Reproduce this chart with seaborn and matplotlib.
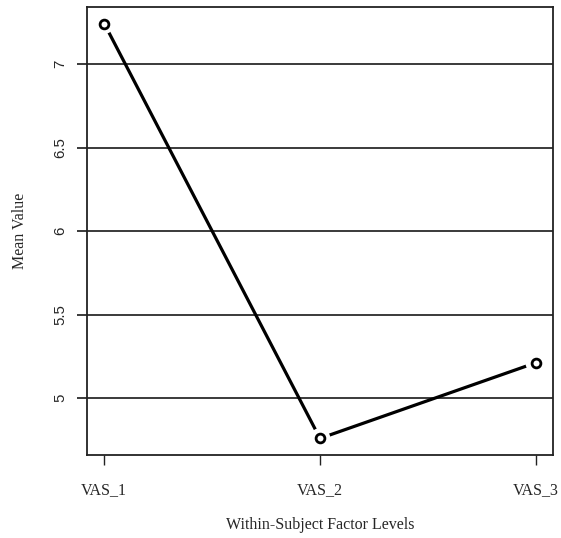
import numpy as np
import pandas as pd
import matplotlib
matplotlib.use("Agg")
import matplotlib.pyplot as plt
import seaborn as sns

# data
levels = ["VAS_1", "VAS_2", "VAS_3"]
means = [7.243, 4.758, 5.211]
y_ticks = [5, 5.5, 6, 6.5, 7]
y_tick_labels = ["5", "5.5", "6", "6.5", "7"]

df = pd.DataFrame({"pos": np.arange(len(levels)), "level": levels, "mean": means})

sns.set_style("white")
plt.rcParams["font.family"] = ["Liberation Serif", "DejaVu Serif"]

fig = plt.figure(figsize=(5.61, 5.38), dpi=100)
ax = fig.add_axes([87 / 561, 83 / 538, 466 / 561, 448 / 538])

# horizontal reference lines (also act as the y ticks sticking out left)
for yt in y_ticks:
    ax.axhline(yt, color="#3a3a3a", lw=1.4, zorder=1)

sns.lineplot(data=df, x="pos", y="mean", color="black", lw=2.3, ax=ax,
             zorder=2, sort=False)
# white halo around points to get R's type="b" gaps
sns.scatterplot(data=df, x="pos", y="mean", s=220, color="white",
                edgecolor="none", ax=ax, zorder=3)
sns.scatterplot(data=df, x="pos", y="mean", s=40, color="white",
                edgecolor="black", linewidth=2.0, ax=ax, zorder=4)

rng = max(means) - min(means)
ax.set_ylim(min(means) - 0.04 * rng, max(means) + 0.04 * rng)
ax.set_xlim(-0.08, 2.08)

ax.set_xticks(df["pos"])
ax.set_xticklabels(levels, fontsize=11.5)
ax.set_yticks(y_ticks)
ax.set_yticklabels(y_tick_labels, rotation=90, va="center",
                   family=["Liberation Sans", "DejaVu Sans"], fontsize=10.8)
ax.tick_params(axis="x", direction="out", length=7.2, width=1.0,
               color="#222222", pad=12, bottom=True)
ax.tick_params(axis="y", direction="out", length=7.2, width=1.4,
               color="#3a3a3a", pad=7, left=True)

ax.set_xlabel("Within-Subject Factor Levels", fontsize=11.5, labelpad=14)
ax.set_ylabel("Mean Value", fontsize=11.5, labelpad=18)

for sp in ax.spines.values():
    sp.set_color("#222222")
    sp.set_linewidth(1.3)

fig.savefig("out.png", dpi=100)
